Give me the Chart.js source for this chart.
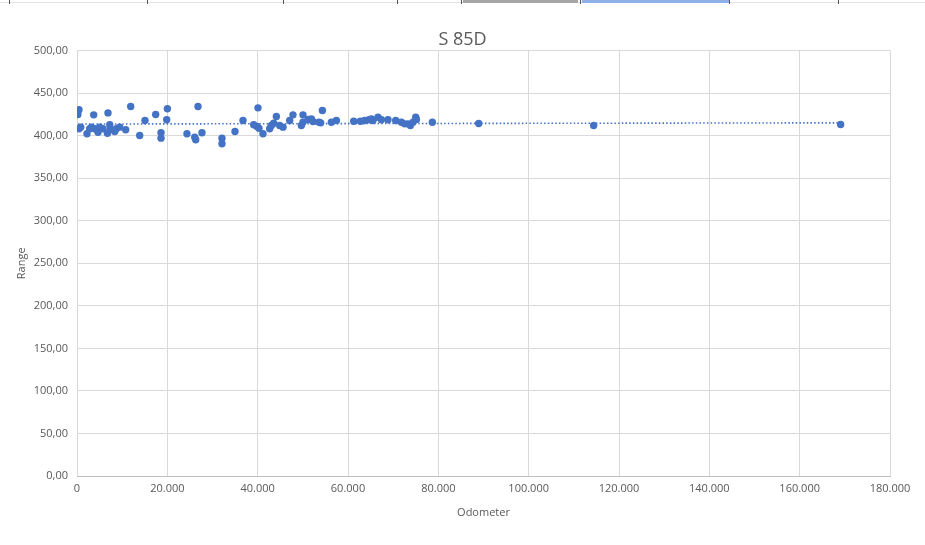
<!DOCTYPE html>
<html>
<head>
<meta charset="utf-8">
<script src="https://cdn.jsdelivr.net/npm/chart.js@4"></script>
<style>
  html, body { margin: 0; padding: 0; background: #fff; }
  #wrap { width: 925px; height: 545px; }
</style>
</head>
<body>
<div id="wrap"><canvas id="rangeChart" width="925" height="545"></canvas></div>
<script>
// data
var odometer = [200, 440, 440, 820, 2210, 2810, 3700, 3190, 3920, 4650, 5030, 5760, 6860, 6730, 7240, 7390,
  8350, 8720, 9450, 10780, 11890, 13880, 15050, 17420, 18600, 18600, 20010, 19860, 24350, 26060, 26280,
  26790, 27670, 32100, 32100, 34980, 36750, 39120, 40070, 39850, 40290, 41180, 42660, 43040, 43550,
  44140, 44870, 45610, 47090, 47820, 49680, 50030, 50030, 51140, 51890, 52250, 53580, 54330, 53950,
  56320, 57430, 61260, 62740, 63690, 64640, 65180, 65530, 66640, 67390, 68850, 70560, 71820, 72550,
  73280, 73810, 74390, 74990, 75140, 78680, 88930, 114390, 169070];
var range = [424.9, 430.4, 408.1, 410.0, 402.3, 408.1, 424.5, 410.0, 408.1, 404.1, 410.0, 408.1, 426.8,
  402.9, 412.8, 407.3, 404.9, 408.1, 410.0, 406.9, 434.3, 400.2, 417.8, 424.9, 403.4, 397.1, 431.6,
  418.7, 402.3, 398.2, 395.2, 434.3, 403.4, 397.1, 390.5, 404.9, 417.8, 412.8, 432.7, 410.8, 408.8,
  402.3, 408.1, 412.0, 414.7, 422.5, 412.0, 410.0, 417.8, 424.5, 412.0, 424.5, 415.8, 419.0, 419.8,
  416.7, 415.8, 429.6, 415.1, 415.8, 417.8, 417.0, 417.0, 417.8, 418.7, 419.8, 417.8, 421.7, 418.7,
  418.7, 417.8, 415.8, 413.9, 413.9, 412.0, 415.8, 421.7, 419.0, 415.8, 414.3, 412.0, 413.1];
// linear trendline ends, as seen in the picture
var trendX = [200, 169070];
var trendY = [413.7, 415.1];

var chartTitle = "S 85D";
var xTitle = "Odometer";
var yTitle = "Range";

var points = odometer.map(function (x, i) { return { x: x, y: range[i] }; });
var trend = trendX.map(function (x, i) { return { x: x, y: trendY[i] }; });

var labelColor = "#595959";
var gridColor = "#d9d9d9";
var blue = "#4472C4";

// strip of the spreadsheet visible above the chart
var sheetStrip = {
  id: "sheetStrip",
  beforeDraw: function (chart) {
    var ctx = chart.ctx;
    ctx.save();
    ctx.fillStyle = "#fff";
    ctx.fillRect(0, 0, chart.width, chart.height);
    ctx.fillStyle = "#e3e3e3";
    ctx.fillRect(0, 2, chart.width, 1);
    ctx.fillStyle = "#a6a6a6";
    ctx.fillRect(463, 0, 115, 3);
    ctx.fillStyle = "#8fb0e8";
    ctx.fillRect(582, 0, 147, 3);
    ctx.fillStyle = "#555";
    [9, 147, 283, 397, 461, 580, 729, 838].forEach(function (x) {
      ctx.fillRect(x, 0, 1, 4);
    });
    ctx.restore();
  },
};

var ctx = document.getElementById("rangeChart").getContext("2d");
var rangeChart = new Chart(ctx, {
  type: "scatter",
  data: {
    datasets: [
      {
        label: "Range",
        data: points,
        backgroundColor: blue,
        borderColor: blue,
        borderWidth: 0,
        pointRadius: 3.7,
        pointHoverRadius: 3.7,
      },
      {
        label: "Trend",
        data: trend,
        type: "line",
        showLine: true,
        borderColor: blue,
        borderWidth: 1.6,
        borderDash: [1.5, 2.2],
        pointRadius: 0,
        fill: false,
      },
    ],
  },
  options: {
    responsive: false,
    animation: false,
    devicePixelRatio: 1,
    layout: { padding: 0 },
    plugins: {
      legend: { display: false },
      tooltip: { enabled: false },
      title: {
        display: true,
        text: chartTitle,
        color: labelColor,
        font: { family: "Open Sans", size: 18, weight: "normal" },
        padding: { top: 29, bottom: 0 },
      },
    },
    scales: {
      x: {
        type: "linear",
        min: 0,
        max: 180000,
        afterFit: function (scale) { scale.height = 69; },
        ticks: {
          stepSize: 20000,
          color: labelColor,
          padding: 6,
          maxRotation: 0,
          font: { family: "Open Sans", size: 11 },
          callback: function (v) {
            return String(v).replace(/\B(?=(\d{3})+(?!\d))/g, ".");
          },
        },
        grid: { color: gridColor, drawTicks: false },
        border: { color: "#bfbfbf" },
        title: {
          display: true,
          text: xTitle,
          color: labelColor,
          font: { family: "Open Sans", size: 11 },
          padding: { top: 0, bottom: 26 },
        },
      },
      y: {
        type: "linear",
        min: 0,
        max: 500,
        afterFit: function (scale) { scale.width = 77; },
        ticks: {
          stepSize: 50,
          color: labelColor,
          padding: 9,
          font: { family: "Open Sans", size: 11 },
          callback: function (v) { return v.toFixed(2).replace(".", ","); },
        },
        grid: { color: gridColor, drawTicks: false },
        border: { display: false },
        title: {
          display: true,
          text: yTitle,
          color: labelColor,
          font: { family: "Open Sans", size: 11 },
          padding: { top: 15, bottom: 0 },
        },
      },
      // empty margin on the right so the title centres on the whole picture
      yRight: {
        position: "right",
        min: 0,
        max: 500,
        afterFit: function (scale) { scale.width = 35; },
        ticks: { display: false },
        grid: { display: false, drawTicks: false },
        border: { display: false },
      },
    },
  },
  plugins: [sheetStrip],
});
</script>
</body>
</html>
